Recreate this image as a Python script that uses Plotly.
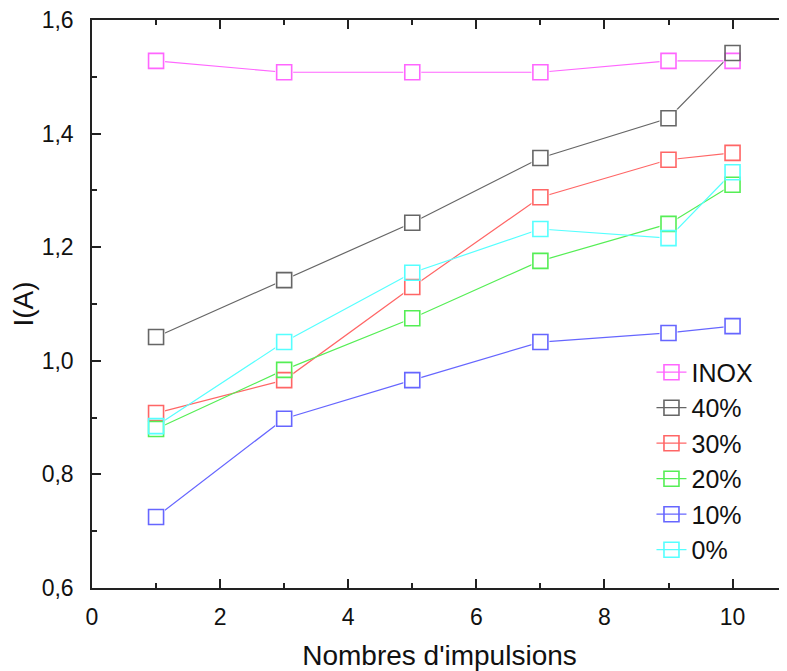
import plotly.graph_objects as go

x_vals = [1, 3, 5, 7, 9, 10]
series_names = ["INOX", "40%", "30%", "20%", "10%", "0%"]
inox = [1.528, 1.508, 1.508, 1.508, 1.528, 1.528]
p40 = [1.042, 1.142, 1.243, 1.357, 1.427, 1.542]
p30 = [0.908, 0.966, 1.130, 1.288, 1.354, 1.366]
p20 = [0.880, 0.984, 1.075, 1.176, 1.241, 1.310]
p10 = [0.725, 0.898, 0.966, 1.033, 1.049, 1.061]
p0 = [0.885, 1.033, 1.155, 1.232, 1.216, 1.332]
series_values = [inox, p40, p30, p20, p10, p0]
colors = ["#FF66FF", "#666666", "#FF6666", "#55EE55", "#6666FF", "#55FFFF"]

fig = go.Figure()
# lines with open markers (legend)
for name, ys, c in zip(series_names, series_values, colors):
    fig.add_trace(go.Scatter(x=x_vals, y=ys, mode="lines+markers", name=name,
                             line=dict(color=c, width=1.2),
                             marker=dict(symbol="square-open", size=15, color=c,
                                         line=dict(width=1.6, color=c))))
# white fill hiding line inside markers
for name, ys, c in zip(series_names, series_values, colors):
    fig.add_trace(go.Scatter(x=x_vals, y=ys, mode="markers", showlegend=False,
                             hoverinfo="skip",
                             marker=dict(symbol="square", size=18, color="white",
                                         line=dict(width=0))))
# outlines on top
for name, ys, c in zip(series_names, series_values, colors):
    fig.add_trace(go.Scatter(x=x_vals, y=ys, mode="markers", showlegend=False,
                             hoverinfo="skip",
                             marker=dict(symbol="square-open", size=15, color=c,
                                         line=dict(width=1.6, color=c))))

font_family = "Liberation Sans, Arial, sans-serif"
fig.update_layout(
    width=779, height=663,
    margin=dict(l=84, r=0, t=12, b=83, autoexpand=False),
    paper_bgcolor="white", plot_bgcolor="white",
    separators=", ",
    font=dict(family=font_family, color="#111111", size=23),
    showlegend=True,
    legend=dict(x=0.805, y=0.42, xanchor="left", yanchor="top",
                font=dict(size=25, family=font_family), bgcolor="rgba(0,0,0,0)",
                tracegroupgap=0, itemsizing="trace"),
    xaxis=dict(range=[0, 10.85], tickvals=[0, 2, 4, 6, 8, 10],
               automargin=False, ticklabeloverflow="allow",
               ticks="inside", ticklen=9, tickwidth=1.5, tickcolor="#222",
               showline=True, linecolor="#222", linewidth=1.5, mirror="ticks",
               showgrid=False, zeroline=False, ticklabelstandoff=8,
               tickfont=dict(size=23),
               minor=dict(ticks="inside", ticklen=5, tickwidth=1.5, tickcolor="#222",
                          tickvals=[1, 3, 5, 7, 9], showgrid=False),
               title=dict(text="Nombres d'impulsions", font=dict(size=28), standoff=18)),
    yaxis=dict(range=[0.6, 1.6], tickvals=[0.6, 0.8, 1.0, 1.2, 1.4, 1.6],
               tickformat=".1f", automargin=False, ticklabeloverflow="allow",
               ticks="inside", ticklen=9, tickwidth=1.5, tickcolor="#222",
               showline=True, linecolor="#222", linewidth=1.5, mirror=False,
               showgrid=False, zeroline=False, ticklabelstandoff=12,
               tickfont=dict(size=23),
               minor=dict(ticks="inside", ticklen=5, tickwidth=1.5, tickcolor="#222",
                          tickvals=[0.7, 0.9, 1.1, 1.3, 1.5], showgrid=False),
               title=dict(text="I(A)", font=dict(size=28), standoff=20)),
)

fig.write_html("out.html")
